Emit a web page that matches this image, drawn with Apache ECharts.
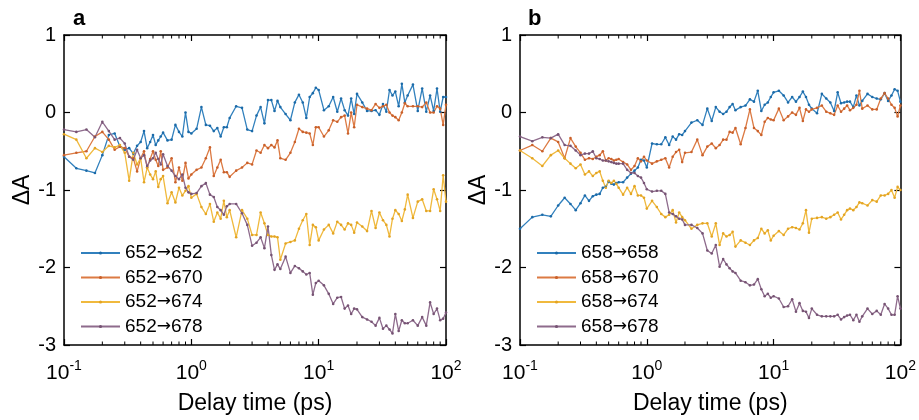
<!DOCTYPE html>
<html>
<head>
<meta charset="utf-8">
<script src="https://cdn.jsdelivr.net/npm/echarts@6/dist/echarts.min.js"></script>
<style>
html,body{margin:0;padding:0;background:#fff;}
#chart{width:919px;height:420px;}
</style>
</head>
<body>
<div id="chart"></div>
<script>
// Delay times (ps), shared by all traces
const T = [0.1,0.125,0.15,0.175,0.2,0.225,0.25,0.275,0.3,0.325,0.35,0.375,0.4,0.425,0.45,0.475,0.5,0.525,0.55,0.575,0.6,
  0.65,0.7,0.75,0.8,0.85,0.9,0.95,
  1.0,1.1,1.2,1.3,1.4,1.5,1.6,1.7,1.8,1.9,
  2.0,2.25,2.5,2.75,3.0,3.25,3.5,3.75,4.0,4.25,4.5,4.75,
  5.0,5.5,6.0,6.5,7.0,7.5,8.0,8.5,9.0,9.5,
  10,11,12,13,14,15,16,17,18,19,
  20,22,24,26,28,30,32,34,36,38,
  40,42.5,45,47.5,50,55,60,65,70,75,80,85,90,95,100];

// Panel a
const namesA = ['652\u2192652','652\u2192670','652\u2192674','652\u2192678'];
const a652 = [-0.57,-0.72,-0.75,-0.78,-0.55,-0.29,-0.27,-0.44,-0.48,-0.46,-0.53,-0.43,-0.38,-0.24,-0.46,-0.38,-0.29,-0.42,-0.36,-0.31,-0.26,
  -0.36,-0.35,-0.16,-0.25,-0.31,0.00,-0.25,
  -0.27,-0.21,0.07,-0.16,-0.17,-0.24,-0.20,-0.31,-0.19,-0.19,
  -0.07,0.08,0.06,-0.22,-0.24,-0.04,0.07,-0.14,0.16,0.16,0.02,0.15,
  0.07,-0.02,-0.10,0.13,0.23,0.13,-0.07,0.20,0.25,0.32,
  0.29,0.03,0.08,0.20,0.01,0.18,0.03,-0.04,0.18,-0.02,
  0.24,0.13,0.02,0.02,0.03,-0.03,0.11,0.01,0.29,0.22,
  0.27,0.08,0.37,0.13,0.22,0.36,0.02,0.31,0.01,0.22,0.02,0.31,0.01,0.20,0.20];
const a670 = [-0.55,-0.52,-0.50,-0.31,-0.25,-0.35,-0.48,-0.44,-0.46,-0.57,-0.59,-0.76,-0.59,-0.50,-0.71,-0.60,-0.50,-0.61,-0.69,-0.50,-0.74,
  -0.71,-0.59,-0.90,-0.71,-0.88,-0.65,-0.85,
  -0.80,-0.74,-0.71,-0.59,-0.45,-0.82,-0.71,-0.61,-0.77,-0.77,
  -0.83,-0.75,-0.71,-0.65,-0.67,-0.49,-0.52,-0.42,-0.46,-0.42,-0.45,-0.36,
  -0.59,-0.61,-0.52,-0.38,-0.21,-0.25,-0.26,-0.27,-0.42,-0.19,
  -0.19,-0.31,-0.23,-0.10,-0.12,-0.06,-0.04,-0.27,0.00,-0.19,
  0.10,0.07,0.05,0.03,0.11,0.06,0.08,0.10,0.00,-0.04,
  -0.06,-0.10,0.00,0.12,0.08,0.08,0.08,0.07,0.13,0.00,0.00,0.08,0.05,-0.16,0.10];
const a674 = [-0.28,-0.35,-0.59,-0.46,-0.51,-0.43,-0.45,-0.42,-0.52,-0.88,-0.52,-0.67,-0.59,-0.90,-0.71,-0.80,-0.86,-0.76,-0.96,-0.86,-0.82,
  -1.17,-1.03,-1.16,-0.97,-1.07,-1.01,-0.95,
  -1.10,-1.05,-1.22,-1.31,-1.18,-1.41,-1.29,-1.37,-1.14,-1.35,
  -1.26,-1.61,-1.26,-1.37,-1.58,-1.58,-1.29,-1.43,-1.58,-1.60,-1.60,-1.61,
  -1.90,-1.69,-1.67,-1.65,-1.50,-1.39,-1.31,-1.71,-1.45,-1.48,
  -1.65,-1.51,-1.45,-1.56,-1.41,-1.45,-1.51,-1.43,-1.45,-1.55,
  -1.42,-1.47,-1.53,-1.27,-1.49,-1.29,-1.39,-1.45,-1.60,-1.37,
  -1.26,-1.31,-1.40,-1.25,-1.06,-1.36,-1.15,-1.12,-1.27,-1.27,-0.99,-1.12,-1.27,-0.81,-1.15];
const a678 = [-0.22,-0.25,-0.22,-0.32,-0.12,-0.24,-0.35,-0.33,-0.40,-0.57,-0.61,-0.48,-0.59,-0.55,-0.69,-0.62,-0.59,-0.52,-0.60,-0.67,-0.54,
  -0.69,-0.75,-0.82,-0.86,-0.80,-0.97,-1.03,
  -1.05,-1.04,-0.95,-0.91,-1.06,-1.09,-1.22,-1.26,-1.32,-1.21,
  -1.18,-1.18,-1.30,-1.45,-1.72,-1.68,-1.61,-1.75,-1.47,-1.84,-2.03,-1.96,
  -2.02,-1.86,-2.07,-1.98,-2.01,-2.05,-2.09,-2.07,-2.35,-2.20,
  -2.17,-2.23,-2.34,-2.47,-2.39,-2.38,-2.53,-2.49,-2.60,-2.53,
  -2.54,-2.64,-2.67,-2.70,-2.75,-2.65,-2.79,-2.75,-2.80,-2.85,
  -2.60,-2.82,-2.68,-2.72,-2.72,-2.68,-2.75,-2.64,-2.75,-2.45,-2.60,-2.53,-2.68,-2.66,-2.58];

// Panel b
const namesB = ['658\u2192658','658\u2192670','658\u2192674','658\u2192678'];
const b658 = [-1.50,-1.35,-1.32,-1.34,-1.20,-1.10,-1.18,-1.26,-1.17,-1.07,-1.14,-1.08,-1.06,-1.05,-0.97,-0.96,-0.89,-0.92,-0.93,-0.91,-0.90,
  -0.90,-0.84,-0.79,-0.75,-0.71,-0.61,-0.62,
  -0.71,-0.40,-0.41,-0.41,-0.32,-0.42,-0.31,-0.35,-0.28,-0.29,
  -0.24,-0.13,-0.10,-0.16,0.05,-0.11,0.07,0.01,-0.02,0.01,0.07,0.11,
  0.03,0.07,0.09,0.17,0.14,0.28,0.02,0.10,0.13,0.20,
  0.26,0.28,0.22,0.13,0.20,0.14,0.20,0.27,0.20,0.10,
  0.05,-0.01,0.24,0.18,0.13,0.02,0.26,0.12,0.13,0.14,
  0.14,0.07,0.22,0.09,0.15,0.24,0.20,0.18,0.17,0.25,0.15,0.22,0.30,0.28,0.14];
const b670 = [-0.49,-0.42,-0.50,-0.33,-0.38,-0.59,-0.33,-0.44,-0.52,-0.61,-0.59,-0.60,-0.57,-0.55,-0.50,-0.62,-0.59,-0.60,-0.62,-0.61,-0.60,
  -0.64,-0.67,-0.74,-0.69,-0.59,-0.63,-0.57,
  -0.62,-0.66,-0.63,-0.61,-0.59,-0.71,-0.57,-0.51,-0.48,-0.64,
  -0.52,-0.51,-0.35,-0.55,-0.44,-0.40,-0.46,-0.42,-0.35,-0.35,-0.25,-0.26,
  -0.20,-0.41,-0.20,0.04,-0.20,-0.24,-0.29,-0.12,-0.07,-0.09,
  -0.10,0.05,-0.10,-0.05,0.00,-0.03,0.06,-0.11,0.04,0.01,
  0.04,0.06,0.09,0.01,-0.01,-0.03,0.09,0.01,0.05,0.09,
  0.03,0.06,0.10,0.28,0.05,0.09,0.04,0.04,0.18,0.25,0.18,0.10,0.06,-0.05,0.09];
const b674 = [-0.49,-0.59,-0.69,-0.55,-0.49,-0.59,-0.66,-0.72,-0.67,-0.80,-0.76,-0.82,-0.78,-0.76,-0.88,-0.97,-0.88,-0.91,-0.88,-0.92,-0.97,
  -1.06,-0.97,-1.05,-0.95,-1.07,-1.07,-1.10,
  -1.24,-1.14,-1.22,-1.31,-1.35,-1.32,-1.26,-1.42,-1.29,-1.35,
  -1.39,-1.50,-1.45,-1.43,-1.43,-1.60,-1.43,-1.71,-1.56,-1.60,-1.58,-1.54,
  -1.73,-1.65,-1.68,-1.71,-1.65,-1.62,-1.50,-1.56,-1.52,-1.65,
  -1.59,-1.53,-1.58,-1.50,-1.48,-1.49,-1.51,-1.43,-1.26,-1.55,
  -1.37,-1.36,-1.35,-1.37,-1.35,-1.32,-1.29,-1.38,-1.32,-1.26,
  -1.24,-1.26,-1.22,-1.16,-1.17,-1.20,-1.13,-1.15,-1.07,-1.07,-1.05,-1.00,-1.10,-0.96,-1.00];
const b678 = [-0.31,-0.37,-0.32,-0.33,-0.28,-0.42,-0.43,-0.49,-0.55,-0.53,-0.53,-0.50,-0.59,-0.60,-0.62,-0.62,-0.63,-0.64,-0.65,-0.66,-0.66,
  -0.66,-0.74,-0.78,-0.78,-0.82,-0.84,-0.91,
  -0.99,-1.02,-1.01,-1.01,-1.05,-1.29,-1.31,-1.34,-1.37,-1.38,
  -1.45,-1.45,-1.49,-1.56,-1.78,-1.82,-1.71,-1.99,-1.89,-1.96,-2.01,-2.05,
  -2.07,-2.17,-2.19,-2.23,-2.22,-2.15,-2.28,-2.37,-2.34,-2.39,
  -2.37,-2.40,-2.51,-2.50,-2.41,-2.57,-2.46,-2.56,-2.57,-2.65,
  -2.53,-2.61,-2.63,-2.63,-2.63,-2.63,-2.61,-2.67,-2.64,-2.62,
  -2.61,-2.68,-2.61,-2.70,-2.63,-2.53,-2.60,-2.56,-2.61,-2.47,-2.53,-2.61,-2.61,-2.37,-2.53];

const panelLabels = ['a','b'];

const FONT = 'Liberation Sans, Arial, Helvetica, sans-serif';
const lineColors = ['#3180bd','#dc7a43','#f0b93d','#8e6b8c'];
const dotColors  = ['#1b6aa8','#c9602a','#e3a423','#765373'];

const chart = echarts.init(document.getElementById('chart'), null, {renderer:'canvas'});

const grids = [
  {left:64, top:35, width:382, height:315},
  {left:520, top:35, width:382, height:315}
];

function xAxisPair(gi){
  const common = {
    type:'log', logBase:10, min:0.1, max:100, gridIndex:gi,
    axisLine:{show:true, onZero:false, lineStyle:{color:'#000', width:1.5}},
    axisTick:{show:true, inside:true, length:6, lineStyle:{color:'#000', width:1.2}},
    splitLine:{show:false}, minorTick:{show:false}, minorSplitLine:{show:false}
  };
  return [
    Object.assign({}, common, {
      position:'bottom',
      name:'Delay time (ps)', nameLocation:'middle', nameGap:47,
      nameTextStyle:{fontFamily:FONT, fontSize:23, color:'#000'},
      axisLabel:{show:true, margin:14, color:'#000',
        formatter: v => '{b|10}{s|' + Math.round(Math.log10(v)) + '}',
        rich:{
          b:{fontFamily:FONT, fontSize:21, color:'#000', verticalAlign:'bottom', lineHeight:25},
          s:{fontFamily:FONT, fontSize:14, color:'#000', verticalAlign:'top', lineHeight:14}
        }
      }
    }),
    Object.assign({}, common, {position:'top', axisLabel:{show:false}})
  ];
}
function yAxisPair(gi){
  const common = {
    type:'value', min:-3, max:1, interval:1, gridIndex:gi,
    axisLine:{show:true, onZero:false, lineStyle:{color:'#000', width:1.5}},
    axisTick:{show:true, inside:true, length:6, lineStyle:{color:'#000', width:1.2}},
    splitLine:{show:false}
  };
  return [
    Object.assign({}, common, {
      position:'left',
      name:'\u0394A', nameLocation:'middle', nameGap:30, nameRotate:90,
      nameTextStyle:{fontFamily:FONT, fontSize:23, color:'#000'},
      axisLabel:{show:true, margin:8, fontFamily:FONT, fontSize:20, color:'#000'}
    }),
    Object.assign({}, common, {position:'right', axisLabel:{show:false}})
  ];
}

const xAxes = [...xAxisPair(0), ...xAxisPair(1)];
const yAxes = [...yAxisPair(0), ...yAxisPair(1)];

const seriesA = [a652, a670, a674, a678];
const seriesB = [b658, b670, b674, b678];
const series = [];
function addSeries(names, arrs, axisIdx){
  arrs.forEach((arr, k) => {
    series.push({
      type:'line', name:names[k], xAxisIndex:axisIdx, yAxisIndex:axisIdx,
      data: T.map((t,i) => [t, arr[i]]),
      showSymbol:true, symbol:'circle', symbolSize:2.6,
      lineStyle:{color:lineColors[k], width:1.3},
      itemStyle:{color:dotColors[k]},
      clip:true, animation:false, emphasis:{disabled:true}
    });
  });
}
addSeries(namesA, seriesA, 0);
addSeries(namesB, seriesB, 2);

function legendFor(names, left){
  return {
    data:names, orient:'vertical', left:left, top:243,
    itemWidth:39, itemHeight:4, itemGap:4.5,
    formatter: name => {
      const parts = name.split('\u2192');
      return parts[0] + '{ar|\u2192}' + parts[1];
    },
    textStyle:{fontFamily:FONT, fontSize:19, color:'#000', lineHeight:20,
      rich:{ar:{fontFamily:'DejaVu Sans', fontSize:17, color:'#000', lineHeight:20}}},
    selectedMode:false, padding:0, backgroundColor:'transparent'
  };
}

chart.setOption({
  animation:false,
  backgroundColor:'#fff',
  grid:grids,
  xAxis:xAxes,
  yAxis:yAxes,
  legend:[legendFor(namesA, 80), legendFor(namesB, 536)],
  series:series
});

// Log minor ticks (2..9 per decade) on bottom and top edges, placed with the axis scale
const gfx = [];
[0, 2].forEach((xi, gi) => {
  const yBot = chart.convertToPixel({yAxisIndex: gi*2}, -3);
  const yTop = chart.convertToPixel({yAxisIndex: gi*2}, 1);
  [0.1, 1, 10].forEach(dec => {
    for (let k = 2; k <= 9; k++) {
      const x = chart.convertToPixel({xAxisIndex: xi}, k*dec);
      gfx.push({type:'line', shape:{x1:x, y1:yBot, x2:x, y2:yBot-3.5}, style:{stroke:'#000', lineWidth:1}, silent:true, z:50});
      gfx.push({type:'line', shape:{x1:x, y1:yTop, x2:x, y2:yTop+3.5}, style:{stroke:'#000', lineWidth:1}, silent:true, z:50});
    }
  });
});
gfx.push({type:'text', left:73, top:8, style:{text:panelLabels[0], font:'bold 22px ' + FONT, fill:'#000'}});
gfx.push({type:'text', left:528, top:8, style:{text:panelLabels[1], font:'bold 22px ' + FONT, fill:'#000'}});
chart.setOption({graphic:gfx});
</script>
</body>
</html>
